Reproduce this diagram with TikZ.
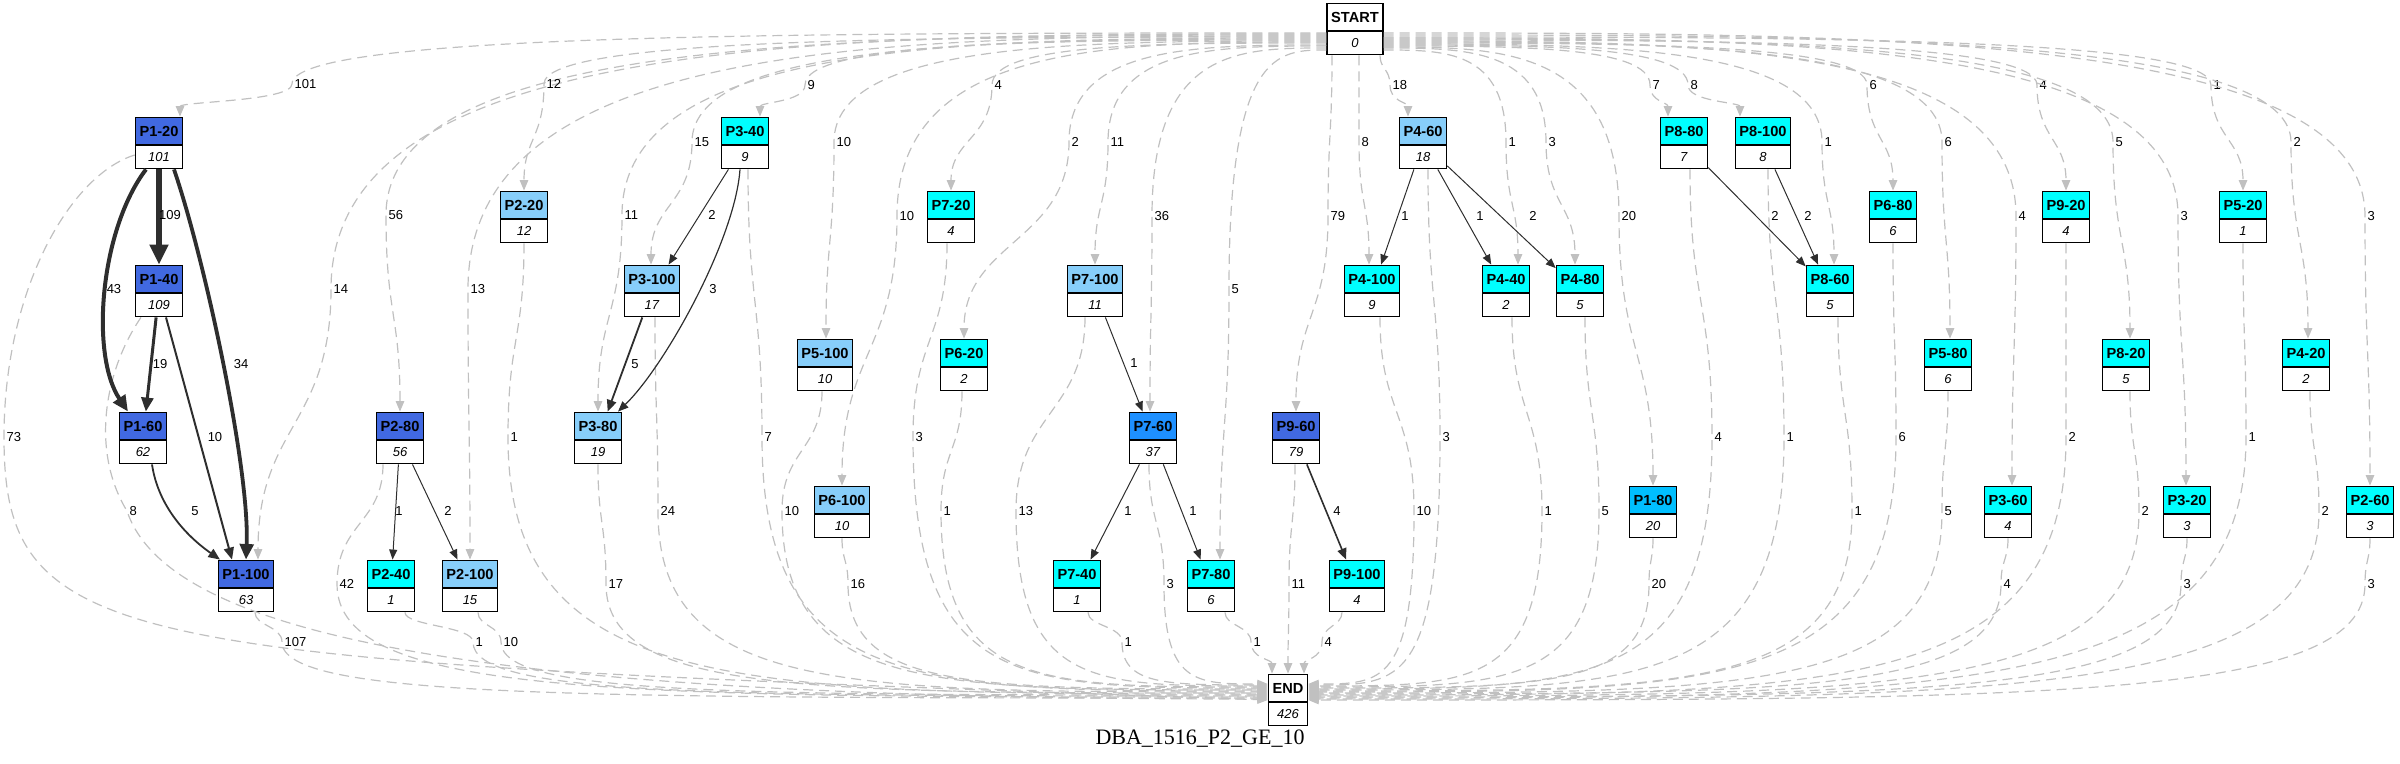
\documentclass[tikz,border=0pt]{standalone}
\usepackage{fontspec}
\setmainfont{Liberation Sans}
\newfontfamily\titlefont{Liberation Serif}
\usetikzlibrary{shapes.multipart,arrows.meta}
\definecolor{royal}{HTML}{4169E1}
\definecolor{sky}{HTML}{87CEFA}
\definecolor{aqua}{HTML}{00FFFF}
\definecolor{dodger}{HTML}{1E90FF}
\definecolor{deepsky}{HTML}{00BFFF}
\definecolor{flowgray}{HTML}{C0C0C0}
\definecolor{flowdark}{HTML}{2E2E2E}
\newcommand{\hd}[1]{\rule[-2.9pt]{0pt}{11pt}\textbf{#1}}
\newcommand{\vl}[1]{{\fontsize{6.5}{7}\selectfont\rule[-2.1pt]{0pt}{9pt}\textit{#1}}}
\begin{document}
\begin{tikzpicture}[%
            x=0.5pt, y=-0.5pt,
            pbox/.style={rectangle split, rectangle split parts=2, draw=black, line width=0.8pt,
                rectangle split part fill={#1,white}, inner xsep=2pt, inner ysep=1pt,
                font=\fontsize{7.3}{8}\selectfont},
            gedge/.style={draw=flowgray, line width=0.6pt, dash pattern=on 5pt off 3pt,
                -{Triangle[length=4pt 2,width=3pt 2]}},
            bedge/.style={draw=flowdark, line width=0.5pt, -{Triangle[length=4pt 2,width=3pt 2]}},
            elabel/.style={font=\fontsize{6.5}{7}\selectfont, inner sep=1pt, text=black}
        ]
        \useasboundingbox (0,0) rectangle (2400,764);

        \node (START) at (1355,29) [pbox=white] {\hd{START}\nodepart{two}\vl{0}};
        \node (END) at (1288,700) [pbox=white] {\hd{END}\nodepart{two}\vl{426}};
        \node (title) at (1200,739) [font=\titlefont\fontsize{11}{13}\selectfont] {DBA\_1516\_P2\_GE\_10};

        \node (P1-20) at (159,143) [pbox=royal] {\hd{P1-20}\nodepart{two}\vl{101}};
        \node (P3-40) at (745,143) [pbox=aqua] {\hd{P3-40}\nodepart{two}\vl{9}};
        \node (P4-60) at (1423,143) [pbox=sky] {\hd{P4-60}\nodepart{two}\vl{18}};
        \node (P8-80) at (1684,143) [pbox=aqua] {\hd{P8-80}\nodepart{two}\vl{7}};
        \node (P8-100) at (1763,143) [pbox=aqua] {\hd{P8-100}\nodepart{two}\vl{8}};

        \node (P2-20) at (524,217) [pbox=sky] {\hd{P2-20}\nodepart{two}\vl{12}};
        \node (P7-20) at (951,217) [pbox=aqua] {\hd{P7-20}\nodepart{two}\vl{4}};
        \node (P6-80) at (1893,217) [pbox=aqua] {\hd{P6-80}\nodepart{two}\vl{6}};
        \node (P9-20) at (2066,217) [pbox=aqua] {\hd{P9-20}\nodepart{two}\vl{4}};
        \node (P5-20) at (2243,217) [pbox=aqua] {\hd{P5-20}\nodepart{two}\vl{1}};

        \node (P1-40) at (159,291) [pbox=royal] {\hd{P1-40}\nodepart{two}\vl{109}};
        \node (P3-100) at (652,291) [pbox=sky] {\hd{P3-100}\nodepart{two}\vl{17}};
        \node (P7-100) at (1095,291) [pbox=sky] {\hd{P7-100}\nodepart{two}\vl{11}};
        \node (P4-100) at (1372,291) [pbox=aqua] {\hd{P4-100}\nodepart{two}\vl{9}};
        \node (P4-40) at (1506,291) [pbox=aqua] {\hd{P4-40}\nodepart{two}\vl{2}};
        \node (P4-80) at (1580,291) [pbox=aqua] {\hd{P4-80}\nodepart{two}\vl{5}};
        \node (P8-60) at (1830,291) [pbox=aqua] {\hd{P8-60}\nodepart{two}\vl{5}};

        \node (P5-100) at (825,365) [pbox=sky] {\hd{P5-100}\nodepart{two}\vl{10}};
        \node (P6-20) at (964,365) [pbox=aqua] {\hd{P6-20}\nodepart{two}\vl{2}};
        \node (P5-80) at (1948,365) [pbox=aqua] {\hd{P5-80}\nodepart{two}\vl{6}};
        \node (P8-20) at (2126,365) [pbox=aqua] {\hd{P8-20}\nodepart{two}\vl{5}};
        \node (P4-20) at (2306,365) [pbox=aqua] {\hd{P4-20}\nodepart{two}\vl{2}};

        \node (P1-60) at (143,438) [pbox=royal] {\hd{P1-60}\nodepart{two}\vl{62}};
        \node (P2-80) at (400,438) [pbox=royal] {\hd{P2-80}\nodepart{two}\vl{56}};
        \node (P3-80) at (598,438) [pbox=sky] {\hd{P3-80}\nodepart{two}\vl{19}};
        \node (P7-60) at (1153,438) [pbox=dodger] {\hd{P7-60}\nodepart{two}\vl{37}};
        \node (P9-60) at (1296,438) [pbox=royal] {\hd{P9-60}\nodepart{two}\vl{79}};

        \node (P6-100) at (842,512) [pbox=sky] {\hd{P6-100}\nodepart{two}\vl{10}};
        \node (P1-80) at (1653,512) [pbox=deepsky] {\hd{P1-80}\nodepart{two}\vl{20}};
        \node (P3-60) at (2008,512) [pbox=aqua] {\hd{P3-60}\nodepart{two}\vl{4}};
        \node (P3-20) at (2187,512) [pbox=aqua] {\hd{P3-20}\nodepart{two}\vl{3}};
        \node (P2-60) at (2370,512) [pbox=aqua] {\hd{P2-60}\nodepart{two}\vl{3}};

        \node (P1-100) at (246,586) [pbox=royal] {\hd{P1-100}\nodepart{two}\vl{63}};
        \node (P2-40) at (391,586) [pbox=aqua] {\hd{P2-40}\nodepart{two}\vl{1}};
        \node (P2-100) at (470,586) [pbox=sky] {\hd{P2-100}\nodepart{two}\vl{15}};
        \node (P7-40) at (1077,586) [pbox=aqua] {\hd{P7-40}\nodepart{two}\vl{1}};
        \node (P7-80) at (1211,586) [pbox=aqua] {\hd{P7-80}\nodepart{two}\vl{6}};
        \node (P9-100) at (1357,586) [pbox=aqua] {\hd{P9-100}\nodepart{two}\vl{4}};

        % flows leaving START
        \foreach \t/\l/\ly/\wx/\tx/\ty/\ey in {P1-20/101/84/292/180/119/33, P1-100/14/289/331/258/562/34,
            P2-80/56/215/386/400/414/35, P2-100/13/289/468/470/562/36, P2-20/12/84/544/524/193/37,
            P3-80/11/215/622/598/414/38, P3-100/15/142/692/651/267/39, P3-40/9/85/805/760/119/40,
            P5-100/10/142/834/826/341/41, P6-100/10/216/897/842/488/42, P7-20/4/85/992/951/193/43,
            P6-20/2/142/1069/964/341/45, P7-100/11/142/1108/1095/267/46, P7-60/36/216/1152/1150/414/48,
            P7-80/5/289/1229/1220/562/50}
        {
            \pgfmathsetmacro\ctrlx{(1326+\wx)/2}
            \pgfmathsetmacro\midy{(\ly+\ty)/2}
            \draw [gedge] (START.west |- 0,\ey) .. controls (\ctrlx,\ey) and (\wx,\ey) .. (\wx,\ly)
                node [elabel,anchor=west] {\l} .. controls (\wx,\midy) and (\tx,\midy) .. (\t.north -| \tx,0);
        }
        \foreach \t/\l/\ly/\wx/\tx/\ty/\ex in {P9-60/79/216/1328/1296/414/1332, P4-100/8/142/1359/1369/267/1359,
            P4-60/18/85/1390/1408/119/1380}
        {
            \pgfmathsetmacro\ctrly{(53+\ly)/2}
            \pgfmathsetmacro\midy{(\ly+\ty)/2}
            \draw [gedge] (START.south -| \ex,0) .. controls (\ex,\ctrly) and (\wx,\ctrly) .. (\wx,\ly)
                node [elabel,anchor=west] {\l} .. controls (\wx,\midy) and (\tx,\midy) .. (\t.north -| \tx,0);
        }
        \foreach \t/\l/\ly/\wx/\tx/\ty/\ey in {P4-40/1/142/1506/1518/267/50, P4-80/3/142/1546/1575/267/48,
            P1-80/20/216/1619/1653/488/47, P8-80/7/85/1650/1668/119/46, P8-100/8/85/1688/1740/119/45,
            P8-60/1/142/1822/1834/267/44, P6-80/6/85/1867/1893/193/43, P5-80/6/142/1942/1950/341/42,
            P3-60/4/216/2016/2012/488/41, P9-20/4/85/2037/2066/193/40, P8-20/5/142/2113/2130/341/39,
            P3-20/3/216/2178/2186/488/38, P5-20/1/85/2211/2243/193/37, P4-20/2/142/2291/2308/341/35,
            P2-60/3/216/2365/2370/488/33}
        {
            \pgfmathsetmacro\ctrlx{(1384+\wx)/2}
            \pgfmathsetmacro\midy{(\ly+\ty)/2}
            \draw [gedge] (START.east |- 0,\ey) .. controls (\ctrlx,\ey) and (\wx,\ey) .. (\wx,\ly)
                node [elabel,anchor=west] {\l} .. controls (\wx,\midy) and (\tx,\midy) .. (\t.north -| \tx,0);
        }

        % flows into END
        \draw [gedge] (P1-20.west |- 0,155) .. controls (70,175) and (4,290) .. (4,437)
            node [elabel,anchor=west] {73} .. controls (4,655) and (120,660) .. (END.west |- 0,700);
        \draw [gedge] (P1-40.south -| 141,0) .. controls (105,370) and (90,450) .. (127,511)
            node [elabel,anchor=west] {8} .. controls (170,640) and (500,699) .. (END.west |- 0,699);
        \foreach \s/\l/\ly/\wx/\sx/\sb/\ey in {P1-100/107/642/282/255/610/698, P2-80/42/584/337/383/462/697,
            P2-40/1/642/473/405/610/696, P2-100/10/642/501/478/610/695, P2-20/1/437/508/524/241/694,
            P3-80/17/584/606/598/462/693, P3-100/24/511/658/655/314/692, P3-40/7/437/762/748/167/691,
            P5-100/10/511/782/822/389/690, P6-100/16/584/848/842/536/689, P7-20/3/437/913/947/241/688,
            P6-20/1/511/941/962/389/687, P7-100/13/511/1016/1085/314/686, P7-40/1/642/1122/1088/610/685,
            P7-60/3/584/1164/1149/462/684}
        {
            \pgfmathsetmacro\midy{(\sb+\ly)/2}
            \pgfmathsetmacro\ctrlx{\wx+0.3*(1268-\wx)}
            \draw [gedge] (\s.south -| \sx,0) .. controls (\sx,\midy) and (\wx,\midy) .. (\wx,\ly)
                node [elabel,anchor=west] {\l} .. controls (\wx,\ey) and (\ctrlx,\ey) .. (END.west |- 0,\ey);
        }
        \foreach \s/\l/\ly/\wx/\sx/\sb/\ex in {P7-80/1/642/1251/1225/610/1272, P9-60/11/584/1289/1295/462/1288,
            P9-100/4/642/1322/1342/610/1304}
        {
            \pgfmathsetmacro\midy{(\sb+\ly)/2}
            \pgfmathsetmacro\ctrly{(\ly+676)/2}
            \draw [gedge] (\s.south -| \sx,0) .. controls (\sx,\midy) and (\wx,\midy) .. (\wx,\ly)
                node [elabel,anchor=west] {\l} .. controls (\wx,\ctrly) and (\ex,\ctrly) .. (END.north -| \ex,0);
        }
        \foreach \s/\l/\ly/\wx/\sx/\sb/\ey in {P4-100/10/511/1414/1380/314/684, P4-60/3/437/1440/1428/167/685,
            P4-40/1/511/1542/1512/314/686, P4-80/5/511/1599/1585/314/687, P1-80/20/584/1649/1653/536/688,
            P8-80/4/437/1712/1690/167/689, P8-100/1/437/1784/1768/167/690, P8-60/1/511/1852/1838/314/691,
            P6-80/6/437/1896/1893/241/692, P5-80/5/511/1942/1948/389/693, P3-60/4/584/2001/2008/536/694,
            P9-20/2/437/2066/2066/241/695, P8-20/2/511/2139/2130/389/696, P3-20/3/584/2181/2187/536/697,
            P5-20/1/437/2246/2243/241/698, P4-20/2/511/2319/2310/389/699, P2-60/3/584/2365/2370/536/700}
        {
            \pgfmathsetmacro\midy{(\sb+\ly)/2}
            \pgfmathsetmacro\ctrlx{\wx+0.3*(1308-\wx)}
            \draw [gedge] (\s.south -| \sx,0) .. controls (\sx,\midy) and (\wx,\midy) .. (\wx,\ly)
                node [elabel,anchor=west] {\l} .. controls (\wx,\ey) and (\ctrlx,\ey) .. (END.east |- 0,\ey);
        }

        % flows between steps
        \draw [bedge, line width=3pt] (P1-20) -- (P1-40) node [elabel] at (170,215) {109};
        \draw [bedge, line width=2pt] (P1-20.south -| 146,0) .. controls (100,230) and (90,355) .. (P1-60.north -| 128,0)
            node [elabel] at (114,289) {43};
        \draw [bedge, line width=1.9pt] (P1-20.south -| 174,0) .. controls (205,260) and (250,470) .. (P1-100.north -| 246,0)
            node [elabel] at (241,364) {34};
        \draw [bedge, line width=1.5pt] (P1-40) -- (P1-60) node [elabel] at (160,364) {19};
        \draw [bedge, line width=1pt] (P1-40.south -| 166,0) -- (P1-100.north -| 232,0) node [elabel] at (215,437) {10};
        \draw [bedge, line width=0.9pt] (P1-60.south -| 152,0) .. controls (158,505) and (185,535) .. (P1-100.north -| 220,0)
            node [elabel] at (195,511) {5};
        \draw [bedge] (P2-80) -- (P2-40) node [elabel] at (399,511) {1};
        \draw [bedge] (P2-80) -- (P2-100) node [elabel] at (448,511) {2};
        \draw [bedge] (P3-40) -- (P3-100) node [elabel] at (712,215) {2};
        \draw [bedge, line width=0.6pt] (P3-40.south -| 740,0) .. controls (735,240) and (665,366) .. (P3-80.north -| 618,0)
            node [elabel] at (713,289) {3};
        \draw [bedge, line width=0.9pt] (P3-100) -- (P3-80) node [elabel] at (635,364) {5};
        \draw [bedge] (P7-100) -- (P7-60) node [elabel] at (1134,363) {1};
        \draw [bedge] (P7-60) -- (P7-40) node [elabel] at (1128,511) {1};
        \draw [bedge] (P7-60) -- (P7-80) node [elabel] at (1193,511) {1};
        \draw [bedge, line width=0.8pt] (P9-60) -- (P9-100) node [elabel] at (1337,511) {4};
        \draw [bedge] (P4-60) -- (P4-100) node [elabel] at (1405,216) {1};
        \draw [bedge] (P4-60) -- (P4-40) node [elabel] at (1480,216) {1};
        \draw [bedge] (P4-60) -- (P4-80) node [elabel] at (1533,216) {2};
        \draw [bedge] (P8-80) -- (P8-60) node [elabel] at (1775,216) {2};
        \draw [bedge] (P8-100) -- (P8-60) node [elabel] at (1808,216) {2};
    \end{tikzpicture}
\end{document}
